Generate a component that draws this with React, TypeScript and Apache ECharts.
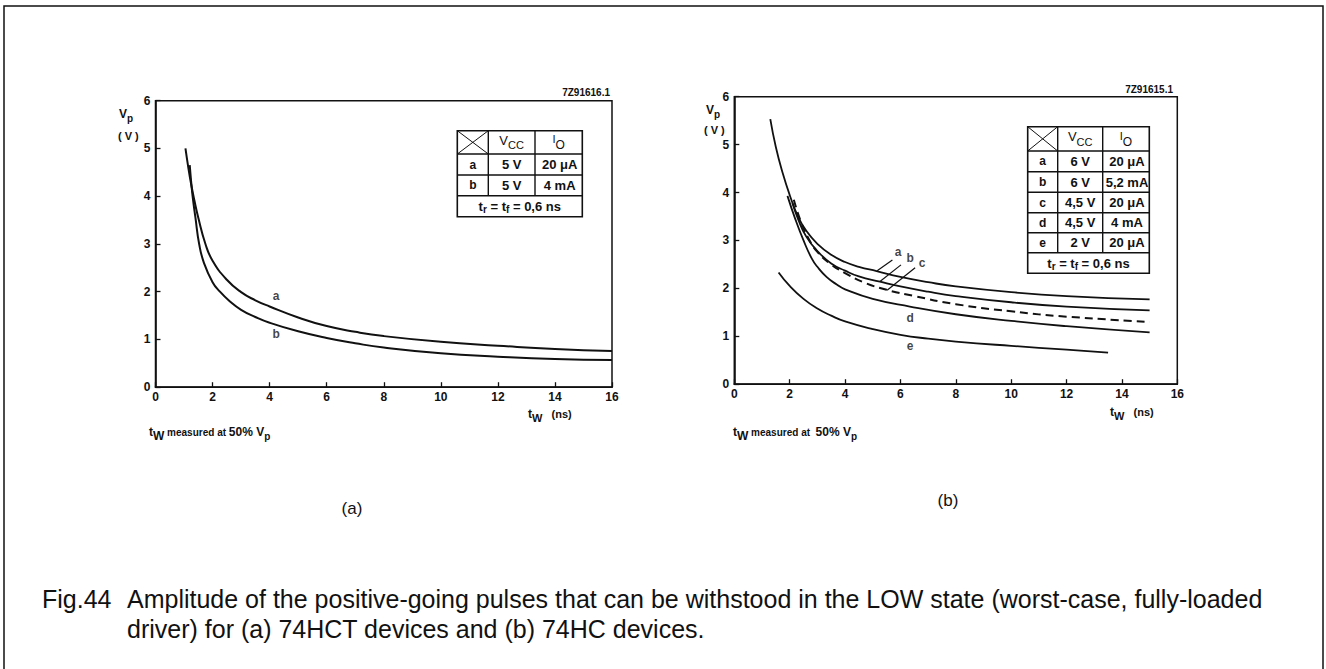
import React, { useEffect, useRef } from "react";
import * as echarts from "echarts";

const FONT = '"Liberation Sans", Arial, Helvetica, sans-serif';
const INK = "#111";

// ---------- axes ----------
const xMin = 0, xMax = 16, xStep = 2;
const yMin = 0, yMax = 6, yStep = 1;

// ---------- panel (a): 74HCT ----------
const hctA_x = [1.05, 1.15, 1.25, 1.36, 1.5, 1.75, 2.0, 2.5, 3.0, 3.5, 4.0, 5.0, 6.0, 7.0, 8.0, 10.0, 12.0, 14.0, 16.0];
const hctA_y = [5.0, 4.6, 4.25, 3.92, 3.55, 3.0, 2.65, 2.25, 1.99, 1.82, 1.69, 1.46, 1.28, 1.16, 1.07, 0.95, 0.87, 0.8, 0.76];
const hctB_x = [1.2, 1.25, 1.3, 1.4, 1.53, 1.7, 2.0, 2.26, 2.6, 3.0, 3.5, 4.0, 5.0, 6.0, 7.0, 8.0, 10.0, 12.0, 14.0, 16.0];
const hctB_y = [4.65, 4.3, 4.0, 3.55, 3.0, 2.6, 2.2, 2.0, 1.8, 1.62, 1.47, 1.35, 1.17, 1.03, 0.92, 0.83, 0.71, 0.64, 0.59, 0.57];
const hctLabelNames = ["a", "b"];
const hctLabelX = [4.23, 4.23];
const hctLabelY = [1.91, 1.12];

// ---------- panel (b): 74HC ----------
const hcA_x = [1.3, 1.5, 1.75, 2.0, 2.3, 2.6, 3.0, 3.5, 4.0, 4.5, 5.14, 6.0, 7.0, 8.0, 10.0, 12.0, 15.0];
const hcA_y = [5.53, 4.95, 4.4, 3.95, 3.5, 3.2, 2.93, 2.7, 2.55, 2.45, 2.36, 2.24, 2.13, 2.04, 1.92, 1.84, 1.77];
const hcB_x = [2.1, 2.3, 2.6, 3.0, 3.5, 4.0, 4.5, 5.26, 6.0, 7.0, 8.0, 10.0, 12.0, 15.0];
const hcB_y = [3.78, 3.45, 3.08, 2.78, 2.52, 2.37, 2.25, 2.14, 2.04, 1.93, 1.84, 1.71, 1.62, 1.54];
const hcC_x = [2.15, 2.4, 2.7, 3.0, 3.45, 4.0, 4.66, 5.5, 6.5, 8.0, 10.0, 12.0, 15.0];
const hcC_y = [3.85, 3.4, 3.02, 2.76, 2.52, 2.32, 2.13, 1.97, 1.84, 1.67, 1.52, 1.41, 1.3];
const hcD_x = [1.92, 2.2, 2.5, 2.8, 3.0, 3.33, 3.7, 4.0, 5.0, 6.34, 8.0, 10.0, 12.0, 15.0];
const hcD_y = [3.93, 3.45, 3.0, 2.62, 2.45, 2.24, 2.08, 1.98, 1.78, 1.62, 1.46, 1.32, 1.21, 1.08];
const hcE_x = [1.6, 2.0, 2.5, 3.0, 3.5, 4.0, 5.0, 6.0, 7.0, 8.0, 10.0, 12.0, 13.5];
const hcE_y = [2.33, 2.05, 1.78, 1.58, 1.43, 1.31, 1.15, 1.03, 0.95, 0.89, 0.8, 0.72, 0.66];
const hcLabelNames = ["a", "b", "c", "d", "e"];
const hcLabelX = [5.92, 6.35, 6.78, 6.35, 6.35];
const hcLabelY = [2.76, 2.63, 2.52, 1.38, 0.8];
// leader lines from label to curve (a, b, c)
const hcLeaderFromX = [5.71, 6.02, 6.53];
const hcLeaderFromY = [2.59, 2.49, 2.43];
const hcLeaderToX = [5.16, 5.25, 5.52];
const hcLeaderToY = [2.37, 2.14, 1.96];

// ---------- tables ----------
const hctTableRows = [
  ["a", "5 V", "20 μA"],
  ["b", "5 V", "4 mA"],
];
const hcTableRows = [
  ["a", "6 V", "20 μA"],
  ["b", "6 V", "5,2 mA"],
  ["c", "4,5 V", "20 μA"],
  ["d", "4,5 V", "4 mA"],
  ["e", "2 V", "20 μA"],
];

// ---------- texts ----------
const figIdA = "7Z91616.1";
const figIdB = "7Z91615.1";
const panelTagA = "(a)";
const panelTagB = "(b)";
const captionFig = "Fig.44";
const captionLine1 = "Amplitude of the positive-going pulses that can be withstood in the LOW state (worst-case, fully-loaded";
const captionLine2 = "driver) for (a) 74HCT devices and (b) 74HC devices.";

const zip = (xs: number[], ys: number[]) => xs.map((x, i) => [x, ys[i]]);

let mctx: CanvasRenderingContext2D | null = null;
function measure(text: string, font: string) {
  if (!mctx) mctx = document.createElement("canvas").getContext("2d");
  if (!mctx) return text.length * 7;
  mctx.font = font;
  return mctx.measureText(text).width;
}

function textEl(t: string, x: number, y: number, font: string, color = INK) {
  return {
    type: "text",
    x,
    y,
    silent: true,
    style: {
      text: t,
      font,
      fill: color,
      textAlign: "left",
      textVerticalAlign: "middle",
      align: "left",
      verticalAlign: "middle",
    },
  };
}

type Part = { t: string; size: number; dy?: number; weight?: string };
function richText(parts: Part[], x: number, y: number, align: "left" | "center" | "right", color = INK, family = FONT) {
  const fonts = parts.map((p) => `${p.weight ?? "bold"} ${p.size}px ${family}`);
  const widths = parts.map((p, i) => measure(p.t, fonts[i]));
  const total = widths.reduce((a, b) => a + b, 0);
  let cx = align === "left" ? x : align === "center" ? x - total / 2 : x - total;
  return parts.map((p, i) => {
    const el = textEl(p.t, cx, y + (p.dy ?? 0), fonts[i], color);
    cx += widths[i];
    return el;
  });
}

function hline(x1: number, x2: number, y: number, w = 1.4) {
  return { type: "line", silent: true, shape: { x1, y1: y, x2, y2: y }, style: { stroke: INK, lineWidth: w } };
}
function vline(x: number, y1: number, y2: number, w = 1.4) {
  return { type: "line", silent: true, shape: { x1: x, y1, x2: x, y2 }, style: { stroke: INK, lineWidth: w } };
}

function buildTable(cols: number[], rowsY: number[], body: string[][]) {
  const els: any[] = [];
  const x0 = cols[0], x3 = cols[3];
  const yTop = rowsY[0], yBot = rowsY[rowsY.length - 1];
  els.push({
    type: "rect",
    silent: true,
    shape: { x: x0, y: yTop, width: x3 - x0, height: yBot - yTop },
    style: { fill: "#fff", stroke: INK, lineWidth: 1.6 },
  });
  for (let i = 1; i < rowsY.length - 1; i++) els.push(hline(x0, x3, rowsY[i]));
  const yFootTop = rowsY[rowsY.length - 2];
  els.push(vline(cols[1], yTop, yFootTop));
  els.push(vline(cols[2], yTop, yFootTop));
  // cross in corner cell
  els.push({ type: "line", silent: true, shape: { x1: x0, y1: yTop, x2: cols[1], y2: rowsY[1] }, style: { stroke: INK, lineWidth: 1 } });
  els.push({ type: "line", silent: true, shape: { x1: x0, y1: rowsY[1], x2: cols[1], y2: yTop }, style: { stroke: INK, lineWidth: 1 } });
  // header
  const hy = (yTop + rowsY[1]) / 2;
  els.push(...richText([{ t: "V", size: 13, dy: -2, weight: "normal" }, { t: "CC", size: 11, dy: 3, weight: "normal" }], (cols[1] + cols[2]) / 2, hy, "center"));
  els.push(...richText([{ t: "I", size: 11, dy: -3, weight: "normal" }, { t: "O", size: 12, dy: 3, weight: "normal" }], (cols[2] + x3) / 2, hy, "center"));
  // body
  body.forEach((row, r) => {
    const cy = (rowsY[r + 1] + rowsY[r + 2]) / 2;
    els.push(...richText([{ t: row[0], size: 12 }], (cols[0] + cols[1]) / 2, cy, "center"));
    els.push(...richText([{ t: row[1], size: 13 }], (cols[1] + cols[2]) / 2, cy, "center"));
    els.push(...richText([{ t: row[2], size: 13 }], (cols[2] + x3) / 2 + 1, cy, "center"));
  });
  // footer
  const fy = (yFootTop + yBot) / 2;
  els.push(
    ...richText(
      [
        { t: "t", size: 13 },
        { t: "r", size: 10, dy: 3 },
        { t: " = t", size: 13 },
        { t: "f", size: 10, dy: 3 },
        { t: " = 0,6 ns", size: 13 },
      ],
      (x0 + x3) / 2,
      fy,
      "center"
    )
  );
  return els;
}

export default function App() {
  const ref = useRef<HTMLDivElement>(null);
  useEffect(() => {
    if (!ref.current) return;
    const chart = echarts.init(ref.current, undefined, { renderer: "svg" });

    const gridA = { left: 155.5, top: 100.7, width: 456.5, height: 286.5 };
    const gridB = { left: 734.3, top: 96.7, width: 443, height: 287.5 };

    const axisCommonX = {
      type: "value",
      min: xMin,
      max: xMax,
      interval: xStep,
      axisLine: { show: true, onZero: false, lineStyle: { color: INK, width: 1.6 } },
      axisTick: { show: true, inside: true, length: 5, lineStyle: { color: INK, width: 1.3 } },
      axisLabel: { show: true, margin: 4, color: INK, fontSize: 12, fontWeight: "bold", fontFamily: FONT, showMinLabel: true, showMaxLabel: true },
      splitLine: { show: false },
    };
    const axisCommonY = {
      type: "value",
      min: yMin,
      max: yMax,
      interval: yStep,
      axisLine: { show: true, onZero: false, lineStyle: { color: INK, width: 1.6 } },
      axisTick: { show: true, inside: true, length: 5, lineStyle: { color: INK, width: 1.3 } },
      axisLabel: { show: true, margin: 5, color: INK, fontSize: 12, fontWeight: "bold", fontFamily: FONT },
      splitLine: { show: false },
    };

    const curve = (xi: number, data: number[][], dashed = false, width = 2) => ({
      type: "line",
      xAxisIndex: xi,
      yAxisIndex: xi,
      data,
      smooth: 0.5,
      symbol: "none",
      silent: true,
      lineStyle: { color: INK, width, type: dashed ? [8, 5] : "solid" },
      z: 3,
    });

    const labelSeries = (xi: number, names: string[], xs: number[], ys: number[]) => ({
      type: "scatter",
      xAxisIndex: xi,
      yAxisIndex: xi,
      symbolSize: 0,
      silent: true,
      data: names.map((n, i) => ({ name: n, value: [xs[i], ys[i]] })),
      label: { show: true, position: "inside", formatter: "{b}", color: INK, fontSize: 12, fontWeight: "bold", fontFamily: FONT },
      z: 4,
    });

    const leaders = hcLeaderFromX.map((_, i) => ({
      type: "line",
      xAxisIndex: 1,
      yAxisIndex: 1,
      data: [
        [hcLeaderFromX[i], hcLeaderFromY[i]],
        [hcLeaderToX[i], hcLeaderToY[i]],
      ],
      symbol: "none",
      silent: true,
      lineStyle: { color: INK, width: 1.2 },
      z: 4,
    }));

    const graphics: any[] = [];
    // outer frame
    graphics.push({ type: "rect", silent: true, shape: { x: 4, y: 6, width: 1319, height: 700 }, style: { fill: "none", stroke: INK, lineWidth: 1.5 }, z: 0 });
    // tables
    graphics.push(...buildTable([457.3, 488.3, 535, 582.3], [130.7, 154, 175, 195.7, 216.7], hctTableRows));
    graphics.push(...buildTable([1027.7, 1057.7, 1102.7, 1149.3], [126.7, 151, 171.7, 192.3, 212.7, 232.7, 252.7, 273.3], hcTableRows));
    // figure ids
    graphics.push(...richText([{ t: figIdA, size: 10 }], 610, 92.5, "right"));
    graphics.push(...richText([{ t: figIdB, size: 10 }], 1173, 89, "right"));
    // Vp (V) labels
    graphics.push(...richText([{ t: "V", size: 12 }, { t: "p", size: 10, dy: 4 }], 119, 114, "left"));
    graphics.push(...richText([{ t: "( V )", size: 11 }], 118, 136, "left"));
    graphics.push(...richText([{ t: "V", size: 12 }, { t: "p", size: 10, dy: 4 }], 706, 110, "left"));
    graphics.push(...richText([{ t: "( V )", size: 11 }], 704, 130, "left"));
    // tW (ns)
    graphics.push(...richText([{ t: "t", size: 12 }, { t: "W", size: 11, dy: 4 }, { t: "   (ns)", size: 11 }], 528, 414, "left"));
    graphics.push(...richText([{ t: "t", size: 12 }, { t: "W", size: 11, dy: 4 }, { t: "   (ns)", size: 11 }], 1110, 412, "left"));
    // tW measured at 50% Vp
    graphics.push(
      ...richText(
        [
          { t: "t", size: 12 },
          { t: "W", size: 12, dy: 4 },
          { t: " measured at ", size: 10 },
          { t: "50% V", size: 12 },
          { t: "p", size: 10, dy: 4 },
        ],
        149,
        432,
        "left"
      )
    );
    graphics.push(
      ...richText(
        [
          { t: "t", size: 12 },
          { t: "W", size: 12, dy: 4 },
          { t: " measured at  ", size: 10 },
          { t: "50% V", size: 12 },
          { t: "p", size: 10, dy: 4 },
        ],
        733,
        432,
        "left"
      )
    );
    // panel tags
    graphics.push(...richText([{ t: panelTagA, size: 17, weight: "normal" }], 352, 508, "center"));
    graphics.push(...richText([{ t: panelTagB, size: 17, weight: "normal" }], 948, 500, "center"));
    // caption
    const capFont = `normal 25px ${FONT}`;
    graphics.push(textEl(captionFig, 42, 599, capFont));
    graphics.push(textEl(captionLine1, 127, 599, capFont));
    graphics.push(textEl(captionLine2, 127, 629, capFont));

    chart.setOption({
      animation: false,
      backgroundColor: "#fff",
      textStyle: { fontFamily: FONT },
      grid: [
        { ...gridA, show: true, borderColor: INK, borderWidth: 1.5, backgroundColor: "transparent", containLabel: false },
        { ...gridB, show: true, borderColor: INK, borderWidth: 1.5, backgroundColor: "transparent", containLabel: false },
      ],
      xAxis: [
        { ...axisCommonX, gridIndex: 0 },
        { ...axisCommonX, gridIndex: 1 },
      ],
      yAxis: [
        { ...axisCommonY, gridIndex: 0 },
        { ...axisCommonY, gridIndex: 1 },
      ],
      series: [
        curve(0, zip(hctA_x, hctA_y)),
        curve(0, zip(hctB_x, hctB_y)),
        labelSeries(0, hctLabelNames, hctLabelX, hctLabelY),
        curve(1, zip(hcA_x, hcA_y), false, 1.8),
        curve(1, zip(hcB_x, hcB_y), false, 1.8),
        curve(1, zip(hcC_x, hcC_y), true, 2),
        curve(1, zip(hcD_x, hcD_y), false, 1.8),
        curve(1, zip(hcE_x, hcE_y), false, 1.8),
        labelSeries(1, hcLabelNames, hcLabelX, hcLabelY),
        ...leaders,
      ],
      graphic: { elements: graphics },
    });

    return () => chart.dispose();
  }, []);

  return (
    <div
      ref={ref}
      style={{ position: "absolute", left: 0, top: 0, width: 1326, height: 669, background: "#fff" }}
    />
  );
}
